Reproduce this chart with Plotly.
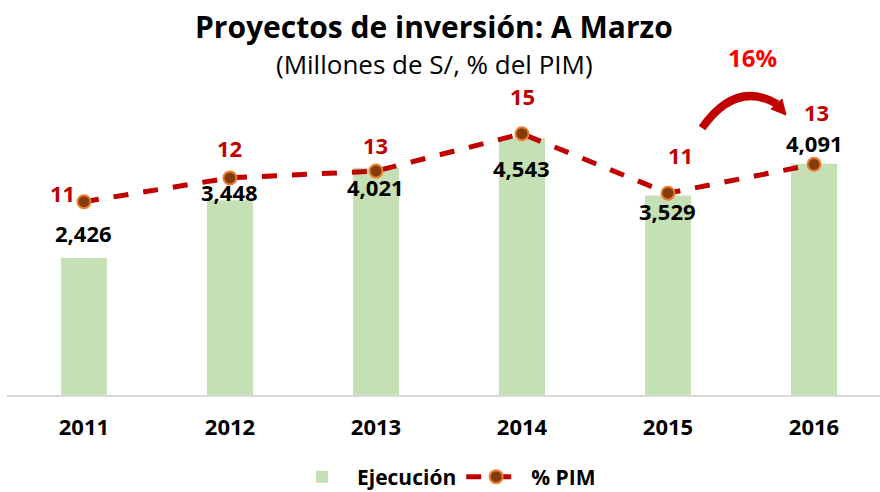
import plotly.graph_objects as go

# ---- data ----
years = ["2011", "2012", "2013", "2014", "2015", "2016"]
ejecucion = [2426, 3448, 4021, 4543, 3529, 4091]
pct_pim = [10.9, 12.3, 12.7, 14.9, 11.4, 13.1]
title_text = "Proyectos de inversión: A Marzo"
subtitle_text = "(Millones de S/, % del PIM)"
growth_text = "16%"

# ---- layout geometry (pixels) ----
W, H = 880, 492
ML, MR, MT, MB = 7, 0, 60, 97
PW, PH = W - ML - MR, H - MT - MB

def px_x(x):
    return (x - ML) / PW

def px_y(y):
    return (H - MB - y) / PH

FONT = "Open Sans"
GREEN = "#C5E0B4"
DRED = "#C00000"

fig = go.Figure()
fig.add_trace(go.Bar(
    x=years, y=ejecucion, name="Ejecución",
    marker=dict(color=GREEN, line=dict(width=0)), width=0.315,
))
fig.add_trace(go.Scatter(
    x=years, y=pct_pim, name="% PIM", yaxis="y2", mode="lines+markers",
    line=dict(color=DRED, width=5, dash="dash"),
    marker=dict(size=13, color="#843C0C", line=dict(color="#ED7D31", width=2)),
))

annotations = []
# bar value labels (offsets in px relative to bar top)
bar_label_shift = [25, 8, -19, -30, -15, 21]
for i, (v, s) in enumerate(zip(ejecucion, bar_label_shift)):
    annotations.append(dict(x=i, y=v, xref="x", yref="y", text=f"{v:,}",
                            showarrow=False, yshift=s, xanchor="center", yanchor="middle",
                            font=dict(family=FONT, size=22, color="black", weight="bold")))
# % PIM labels (offsets in px relative to marker)
pim_xshift = [-21, 0, 0, 1, 13, 2]
pim_yshift = [9, 30, 26, 38, 38, 52]
for i, (v, dx, dy) in enumerate(zip(pct_pim, pim_xshift, pim_yshift)):
    annotations.append(dict(x=i, y=v, xref="x", yref="y2", text=f"{v:.0f}",
                            showarrow=False, xshift=dx, yshift=dy,
                            xanchor="center", yanchor="middle",
                            font=dict(family=FONT, size=22, color=DRED, weight="bold")))
# titles
annotations.append(dict(x=px_x(434), y=px_y(27), xref="paper", yref="paper",
                        text=title_text, showarrow=False, xanchor="center", yanchor="middle",
                        font=dict(family=FONT, size=30, color="black", weight="bold")))
annotations.append(dict(x=px_x(434), y=px_y(64), xref="paper", yref="paper",
                        text=subtitle_text, showarrow=False, xanchor="center", yanchor="middle",
                        font=dict(family=FONT, size=26, color="black")))
annotations.append(dict(x=px_x(752), y=px_y(58), xref="paper", yref="paper",
                        text=growth_text, showarrow=False, xanchor="center", yanchor="middle",
                        font=dict(family=FONT, size=24, color="#FF0000", weight="bold")))

# curved arrow
sx, sy = 702, 128
cx, cy = 736, 80
ex, ey = 777, 104
arc = (f"M {px_x(sx)},{px_y(sy)} Q {px_x(cx)},{px_y(cy)} {px_x(ex)},{px_y(ey)}")
head = (f"M {px_x(786)},{px_y(115)} L {px_x(771)},{px_y(109)} "
        f"L {px_x(782)},{px_y(99)} Z")
shapes = [
    dict(type="path", path=arc, xref="paper", yref="paper",
         line=dict(color=DRED, width=8)),
    dict(type="path", path=head, xref="paper", yref="paper",
         fillcolor=DRED, line=dict(color=DRED, width=1)),
]

fig.update_layout(
    width=W, height=H,
    margin=dict(l=ML, r=MR, t=MT, b=MB, autoexpand=False),
    paper_bgcolor="white", plot_bgcolor="white",
    font=dict(family=FONT, color="black"),
    showlegend=True,
    legend=dict(orientation="h", x=px_x(444), xanchor="center",
                y=px_y(477), yanchor="middle",
                font=dict(family=FONT, size=21, color="black", weight="bold"),
                itemwidth=60, bgcolor="rgba(0,0,0,0)"),
    xaxis=dict(type="category", range=[-0.527, 5.452], showgrid=False,
               showline=True, linecolor="#D9D9D9", linewidth=2,
               ticks="outside", ticklen=12, tickcolor="rgba(0,0,0,0)",
               tickfont=dict(family=FONT, size=22, color="black", weight="bold")),
    yaxis=dict(range=[0, PH / 0.0565], visible=False, showgrid=False),
    yaxis2=dict(overlaying="y", range=[(387 - 395) / 17, (387 - MT) / 17],
                visible=False, showgrid=False),
    annotations=annotations,
    shapes=shapes,
    bargap=0.5,
)

fig.write_html("out.html", config={"displayModeBar": False},
               post_script="document.body.style.margin='0';")
